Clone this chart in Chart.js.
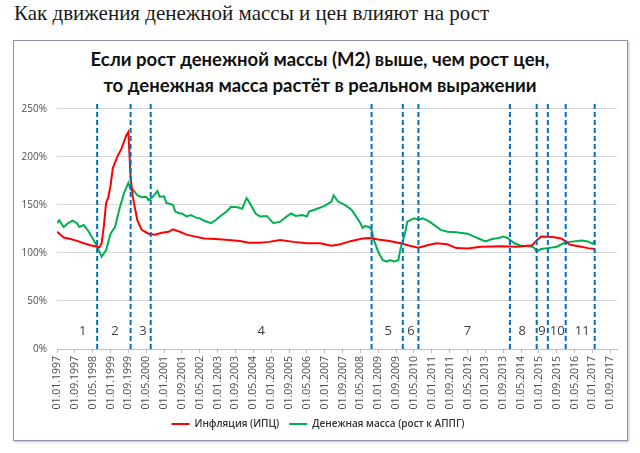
<!DOCTYPE html>
<html lang="ru">
<head>
<meta charset="utf-8">
<script src="https://cdn.jsdelivr.net/npm/chart.js@4/dist/chart.umd.min.js"></script>
<style>
  html, body { margin: 0; padding: 0; background: #fff; }
  #page { position: relative; width: 640px; height: 453px; overflow: hidden; }
  #heading { position: absolute; left: 14px; top: 2px; font: 21px/23px "Liberation Serif", serif; color: #1a1a1a; white-space: nowrap; }
  #box { position: absolute; left: 13px; top: 40px; width: 613px; height: 399px; border: 1px solid #8597b3; box-shadow: 1px 1px 2px rgba(0,0,0,0.25); }
  #title { position: absolute; left: 0; top: 46px; width: 640px; text-align: center; font: bold 18.5px/26px Lato, sans-serif; color: #111; }
  canvas { position: absolute; left: 0; top: 0; }
</style>
</head>
<body>
<div id="page">
  <div id="heading">Как движения денежной массы и цен влияют на рост</div>
  <div id="box"></div>
  <div id="title">Если рост денежной массы (М2) выше, чем рост цен,<br>то денежная масса растёт в реальном выражении</div>
  <canvas id="chart" width="640" height="453"></canvas>
</div>
<script>
// months are counted from 01.01.1997 (= 0)
const xTickLabels = [
  "01.01.1997", "01.09.1997", "01.05.1998", "01.01.1999", "01.09.1999", "01.05.2000",
  "01.01.2001", "01.09.2001", "01.05.2002", "01.01.2003", "01.09.2003", "01.05.2004",
  "01.01.2005", "01.09.2005", "01.05.2006", "01.01.2007", "01.09.2007", "01.05.2008",
  "01.01.2009", "01.09.2009", "01.05.2010", "01.01.2011", "01.09.2011", "01.05.2012",
  "01.01.2013", "01.09.2013", "01.05.2014", "01.01.2015", "01.09.2015", "01.05.2016",
  "01.01.2017", "01.09.2017"
];
const yTickValues = [0, 50, 100, 150, 200, 250];

// Инфляция (ИПЦ), % к АППГ
const cpiMonths = [0, 3, 6, 9, 12, 15, 18, 19, 20, 21, 22, 23, 24, 25, 27, 29, 31, 32, 33, 34,
  35, 36, 38, 41, 44, 47, 50, 52, 55, 58, 61, 66, 71, 77, 82, 86, 91, 95, 100, 106,
  112, 118, 123, 127, 132, 137, 140, 144, 149, 154, 158, 162, 166, 170, 175, 179, 184, 190, 199, 206,
  213, 215, 217, 222, 226, 228, 230, 235, 238, 241];
const cpiValues = [122, 116, 114.5, 112.5, 110, 108, 106.5, 106, 110, 128, 152, 158, 170, 188, 200, 209, 222, 226, 178, 158,
  146, 134, 124, 120, 119, 121, 122, 124.5, 122, 119, 117.5, 115, 114.5, 113.5, 112.5, 110.5, 110.5, 111.5, 113.5, 111.5,
  110, 110, 107.5, 109, 112.5, 115, 115.5, 114, 112.5, 110, 107.5, 105.5, 108, 110, 109, 105, 104.5, 106.5, 107, 106.5,
  108, 113, 117, 116.5, 115, 112, 108.5, 106.5, 105, 104];

// Денежная масса (рост к АППГ), %
const m2Months = [0, 1, 3, 5, 7, 9, 10, 12, 14, 16, 18, 20, 22, 24, 26, 28, 30, 32, 33, 34,
  36, 38, 40, 41, 43, 45, 46, 48, 49, 52, 53, 55, 56, 58, 60, 62, 64, 66, 69, 71,
  73, 76, 78, 81, 83, 85, 86, 89, 91, 94, 97, 100, 103, 105, 107, 110, 112, 113, 116, 120,
  123, 124, 126, 129, 132, 134, 136, 137, 138, 140, 141, 142, 144, 146, 148, 149, 151, 153, 154, 156,
  157, 160, 162, 164, 167, 172, 175, 179, 184, 187, 190, 192, 195, 198, 200, 202, 205, 208, 211, 213,
  214, 215, 217, 220, 224, 227, 230, 235, 238, 240, 241];
const m2Values = [131, 134, 127, 131, 133.5, 131, 127, 129, 123, 115, 107, 96, 103, 120, 127, 146, 162, 173, 166, 166,
  160, 158, 158.5, 155, 158.5, 164.5, 158.5, 159, 152, 150, 143, 141, 141, 138, 139.5, 137, 136, 133.5, 131, 134,
  138, 143, 148, 147.5, 146, 157, 153.5, 141, 138, 138.5, 131, 132.5, 138, 141, 138.5, 139.5, 138, 143, 145.5, 149,
  153.5, 160, 153.5, 150, 145, 138, 131, 126, 128, 127, 124, 113.5, 101, 92.5, 91, 92.5, 91, 92.5, 105, 120.5,
  132.5, 136, 134.5, 136, 132.5, 124, 122, 121.5, 120, 117, 114, 112, 114.5, 115.5, 117, 115.5, 110, 107.5, 107, 106.5,
  105, 101.5, 104, 105, 106.5, 110, 111.5, 113, 112, 109.5, 112];

// dashed period borders and period numbers
const breakDates = ["01.07.1998", "01.10.1999", "01.07.2000", "01.10.2008", "01.12.2009", "01.07.2010",
  "01.12.2013", "01.12.2014", "01.05.2015", "01.01.2016", "01.02.2017"];
const periodNames = ["1", "2", "3", "4", "5", "6", "7", "8", "9", "10", "11"];
const periodCenters = [11.5, 26, 38.5, 91.5, 148.5, 158.7, 184, 208.5, 217.4, 224.2, 235.4];
const periodLevel = 18.5;

const monthIndex = s => { const p = s.split("."); return (+p[2] - 1997) * 12 + (+p[1] - 1); };
const toPoints = (ms, vs) => ms.map((m, i) => ({ x: m, y: vs[i] }));
const Y_TOP = 255;
const GREY = "#4d4d4d";

const periodPlugin = {
  id: "periodLabels",
  afterDatasetsDraw(chart) {
    const { ctx, scales: { x, y } } = chart;
    ctx.save();
    ctx.font = '13px "Open Sans"';
    ctx.fillStyle = "#404040";
    ctx.textAlign = "center";
    ctx.textBaseline = "middle";
    periodNames.forEach((t, i) => ctx.fillText(t, x.getPixelForValue(periodCenters[i]), y.getPixelForValue(periodLevel)));
    ctx.restore();
  }
};

const breakSets = breakDates.map(d => ({
  label: "", data: [{ x: monthIndex(d), y: 0 }, { x: monthIndex(d), y: Y_TOP }],
  borderColor: "#0070c0", borderWidth: 2, borderDash: [5, 3], pointRadius: 0, order: 0
}));

new Chart(document.getElementById("chart"), {
  type: "line",
  data: {
    datasets: [
      { label: "Инфляция (ИПЦ)", data: toPoints(cpiMonths, cpiValues), borderColor: "#ff0000", backgroundColor: "#ff0000",
        borderWidth: 2, pointRadius: 0, tension: 0, order: 1 },
      { label: "Денежная масса (рост к АППГ)", data: toPoints(m2Months, m2Values), borderColor: "#00b050", backgroundColor: "#00b050",
        borderWidth: 2, pointRadius: 0, tension: 0, order: 2 },
      ...breakSets
    ]
  },
  plugins: [periodPlugin],
  options: {
    responsive: false,
    animation: false,
    devicePixelRatio: 1,
    layout: { padding: { left: 19, right: 23, top: 104, bottom: 14 } },
    plugins: {
      title: { display: false },
      tooltip: { enabled: false },
      legend: {
        position: "bottom",
        labels: {
          filter: item => item.datasetIndex < 2,
          usePointStyle: true, pointStyle: "line", pointStyleWidth: 18,
          color: "#333", font: { family: "Open Sans", size: 10, weight: 600 }, padding: 10
        }
      }
    },
    scales: {
      x: {
        type: "linear", min: 0, max: 251,
        afterBuildTicks: s => { s.ticks = xTickLabels.map(l => ({ value: monthIndex(l) })); },
        afterFit: s => { s.height = 60; },
        ticks: { autoSkip: false, minRotation: 90, maxRotation: 90, padding: 3, color: GREY,
          font: { family: "Open Sans", size: 10.5 }, callback: (v, i) => xTickLabels[i] },
        grid: { drawOnChartArea: false, drawTicks: true, tickLength: 4, color: "#bfbfbf" },
        border: { display: true, color: "#bfbfbf" }
      },
      y: {
        min: 0, max: Y_TOP,
        afterBuildTicks: s => { s.ticks = yTickValues.map(v => ({ value: v })); },
        afterFit: s => { s.width = 38; },
        ticks: { padding: 10, color: GREY, font: { family: "Open Sans", size: 10 }, callback: v => v + "%" },
        grid: { color: "#d9d9d9", drawTicks: false },
        border: { display: false }
      }
    }
  }
});
</script>
</body>
</html>
